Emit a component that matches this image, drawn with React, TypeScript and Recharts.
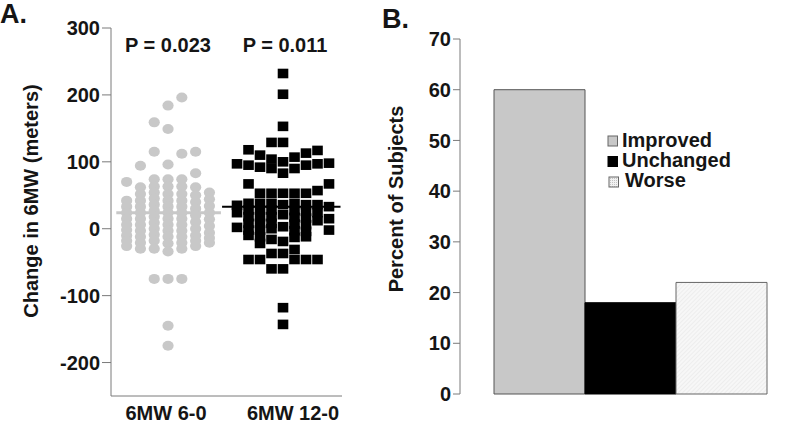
import React from 'react';
import { ScatterChart, Scatter, XAxis, YAxis, ReferenceLine, BarChart, Bar } from 'recharts';

// Panel A: change in 6MW (meters), one list per dot column, left to right
const sixMonthCols: number[][] = [
  [70, 42, 33, 24, 15, 6, -2, -10, -18, -26],
  [94, 62, 52, 42, 33, 24, 15, 6, -3, -12, -21, -30],
  [159, 115, 74, 63, 54, 45, 36, 27, 18, 9, 0, -9, -18, -30, -75],
  [184, 149, 96, 74, 63, 52, 42, 33, 24, 15, 6, -3, -12, -22, -34, -75, -145, -175],
  [196, 112, 74, 63, 52, 42, 33, 24, 15, 6, -3, -12, -21, -30, -75],
  [115, 83, 62, 50, 40, 30, 20, 10, 0, -10, -18, -26],
  [54, 44, 34, 24, 14, 4, -6, -14, -21],
];
const twelveMonthCols: number[][] = [
  [97, 35, 24, 2],
  [118, 95, 67, 38, 28, 18, 8, -2, -10, -46],
  [110, 92, 53, 38, 28, 18, 8, -2, -12, -22, -46],
  [129, 104, 90, 53, 38, 28, 18, 8, 0, -16, -37, -60],
  [232, 201, 153, 129, 100, 83, 53, 36, 21, 3, -19, -37, -60, -118, -143],
  [107, 90, 53, 38, 27, 17, 7, -3, -13, -31, -46],
  [113, 95, 53, 36, 26, 16, 6, -4, -12, -46],
  [117, 97, 57, 36, 24, 12, -46],
  [98, 67, 33, 15, -2],
];
const medians = [24, 33];
const pValues = ['P = 0.023', 'P = 0.011'];
const groupLabels = ['6MW 6-0', '6MW 12-0'];
const changeTicks = [-200, -100, 0, 100, 200, 300];

// Panel B: percent of subjects
const outcomes = ['Improved', 'Unchanged', 'Worse'];
const outcomePercents = [60, 18, 22];
const percentTicks = [0, 10, 20, 30, 40, 50, 60, 70];

const FONT = '"Liberation Sans", Arial, sans-serif';
const INK = '#151515';
const AXIS = '#7a7a7a';
const LIGHT = '#c8c8c8';

const spreadCols = (cols: number[][], group: number, step: number) => {
  const mid = (cols.length - 1) / 2;
  return cols.flatMap((col, i) => col.map((v) => ({ x: group + (i - mid) * step, y: v })));
};

const sixMonthPts = spreadCols(sixMonthCols, 1, 0.12);
const twelveMonthPts = spreadCols(twelveMonthCols, 2, 0.1);

const barRow: Record<string, any> = { name: 'all' };
outcomes.forEach((o, i) => (barRow[o] = outcomePercents[i]));
const barData = [barRow];

const outcomeFill = [LIGHT, '#000', 'url(#worseHatch)'];
const outcomeStroke = ['#555', '#000', '#666'];

const labelNudge = [-2, 10];

const GroupTick = (props: any) => {
  const { x, y, index } = props;
  return (
    <text x={x + labelNudge[index]} y={y} dy={24} textAnchor="middle"
      fontFamily={FONT} fontWeight="bold" fontSize={20} fill={INK}>
      {groupLabels[index]}
    </text>
  );
};

const Dot = (p: any) => <ellipse cx={p.cx} cy={p.cy} rx={5.6} ry={5} fill={LIGHT} />;
const Box = (p: any) => (
  <rect x={p.cx - 5.3} y={p.cy - 4.8} width={10.6} height={9.6} fill="#000" />
);

const tickStyle = { fontFamily: FONT, fontWeight: 'bold', fontSize: 20, fill: INK };

export default function App() {
  return (
    <div style={{ position: 'fixed', left: 0, top: 0, width: 800, height: 423, background: '#fff', fontFamily: FONT }}>
      <div style={{ position: 'absolute', left: 0, top: 0 }}>
        <ScatterChart width={400} height={423} margin={{ top: 28, right: 58, bottom: 0, left: 0 }}>
          <XAxis type="number" dataKey="x" domain={[0.504, 2.513]} ticks={[1, 2]}
            tick={<GroupTick />} tickLine={false} tickSize={0} tickMargin={0} height={27}
            axisLine={{ stroke: AXIS }} allowDataOverflow />
          <YAxis type="number" dataKey="y" domain={[-250, 300]} ticks={changeTicks} width={111}
            tick={tickStyle} tickSize={9} tickMargin={2} tickLine={{ stroke: AXIS }}
            axisLine={{ stroke: AXIS }} allowDataOverflow />
          <Scatter data={sixMonthPts} shape={Dot} isAnimationActive={false} />
          <Scatter data={twelveMonthPts} shape={Box} isAnimationActive={false} />
          <ReferenceLine segment={[{ x: 1 - 0.45, y: medians[0] }, { x: 1 + 0.46, y: medians[0] }]}
            stroke={LIGHT} strokeWidth={3} ifOverflow="hidden" />
          <ReferenceLine segment={[{ x: 2 - 0.53, y: medians[1] }, { x: 2 + 0.5, y: medians[1] }]}
            stroke="#000" strokeWidth={2} ifOverflow="hidden" />
        </ScatterChart>
      </div>

      <div style={{ position: 'absolute', left: 400, top: 0 }}>
        <BarChart width={400} height={423} data={barData} barGap={0} barCategoryGap={34}
          margin={{ top: 39, right: 0, bottom: 29, left: 0 }}>
          <defs>
            <pattern id="worseHatch" width="3" height="3" patternUnits="userSpaceOnUse" patternTransform="rotate(45)">
              <rect width="3" height="3" fill="#f7f7f7" />
              <line x1="0" y1="0" x2="0" y2="3" stroke="#e4e4e4" strokeWidth="1" />
            </pattern>
          </defs>
          <XAxis dataKey="name" tick={false} tickLine={false} height={0} axisLine={{ stroke: AXIS }} />
          <YAxis domain={[0, 70]} ticks={percentTicks} width={60} tick={tickStyle}
            tickSize={7} tickMargin={2} tickLine={{ stroke: AXIS }} axisLine={{ stroke: AXIS }} />
          {outcomes.map((o, i) => (
            <Bar key={o} dataKey={o} fill={outcomeFill[i]} stroke={outcomeStroke[i]} strokeWidth={1}
              isAnimationActive={false} />
          ))}
        </BarChart>
      </div>

      <svg width={800} height={423} style={{ position: 'absolute', left: 0, top: 0, pointerEvents: 'none' }}
        fontFamily={FONT} fontWeight="bold" fill={INK}>
        <defs>
          <pattern id="worseDots" width="2" height="2" patternUnits="userSpaceOnUse">
            <rect width="2" height="2" fill="#f2f2f2" />
            <rect width="1" height="1" fill="#c4c4c4" />
          </pattern>
        </defs>
        <text x={0} y={23} fontSize={27}>A.</text>
        <text x={382} y={28} fontSize={27}>B.</text>
        <text x={168} y={52} fontSize={20} textAnchor="middle">{pValues[0]}</text>
        <text x={285} y={52} fontSize={20} textAnchor="middle">{pValues[1]}</text>
        <text transform="translate(31,201) rotate(-90)" fontSize={20} textAnchor="middle" dy="0.35em">
          Change in 6MW (meters)
        </text>
        <text transform="translate(396,199) rotate(-90)" fontSize={20} textAnchor="middle" dy="0.35em">
          Percent of Subjects
        </text>
        {outcomes.map((o, i) => (
          <g key={o}>
            <rect x={608 + (i === 2 ? 1 : 0)} y={136 + i * 20.5} width={9.5} height={10}
              fill={i === 2 ? 'url(#worseDots)' : outcomeFill[i]} stroke={i === 1 ? '#000' : '#666'} strokeWidth={1} />
            <text x={i === 2 ? 625 : 622} y={147 + i * 20} fontSize={20}>{o}</text>
          </g>
        ))}
      </svg>
    </div>
  );
}
